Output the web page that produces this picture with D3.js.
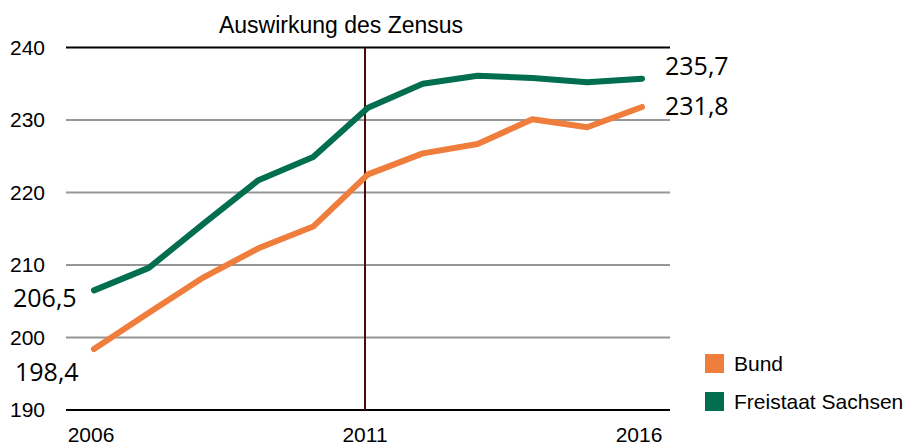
<!DOCTYPE html>
<html>
<head>
<meta charset="utf-8">
<script src="https://cdn.jsdelivr.net/npm/d3@7"></script>
<style>
  body { margin: 0; background: #fff; }
  text { font-family: "Liberation Sans", Arial, sans-serif; fill: #000; }
  .val { font-family: "Open Sans", sans-serif; }
</style>
</head>
<body>
<svg id="chart" width="907" height="446"></svg>
<script>
var years = [2006, 2007, 2008, 2009, 2010, 2011, 2012, 2013, 2014, 2015, 2016];
var bund = [198.4, 203.4, 208.3, 212.3, 215.3, 222.5, 225.4, 226.7, 230.1, 229.0, 231.8];
var sachsen = [206.5, 209.6, 215.7, 221.7, 224.9, 231.7, 235.0, 236.1, 235.8, 235.2, 235.7];
var yTicks = [190, 200, 210, 220, 230, 240];
var xTicks = [2006, 2011, 2016];
var censusYear = 2011;

var series = [
  {name: "Bund", values: bund, color: "#ef7d3c"},
  {name: "Freistaat Sachsen", values: sachsen, color: "#006e4f"}
];

var svg = d3.select("#chart"),
    margin = {top: 47.5, right: 237, bottom: 36, left: 66},
    width = +svg.attr("width") - margin.left - margin.right,
    height = +svg.attr("height") - margin.top - margin.bottom,
    g = svg.append("g").attr("transform", "translate(" + margin.left + "," + margin.top + ")");

var x = d3.scaleLinear().domain([2006, 2016]).range([28, 576]);
var y = d3.scaleLinear().domain([190, 240]).range([height, 0]);

// gridlines
g.append("g")
    .selectAll("line")
    .data(yTicks)
    .enter().append("line")
    .attr("x1", 0)
    .attr("x2", width)
    .attr("y1", function(d) { return y(d); })
    .attr("y2", function(d) { return y(d); })
    .attr("stroke", function(d) { return (d == 190 || d == 240) ? "#000" : "#969696"; })
    .attr("stroke-width", 2);

// y labels
g.append("g")
    .selectAll("text")
    .data(yTicks)
    .enter().append("text")
    .attr("x", -21)
    .attr("y", function(d) { return y(d); })
    .attr("dy", "0.35em")
    .attr("text-anchor", "end")
    .style("font-size", "21px")
    .text(function(d) { return d; });

// x labels
g.append("g")
    .selectAll("text")
    .data(xTicks)
    .enter().append("text")
    .attr("x", function(d) { return x(d) - 3; })
    .attr("y", height + 32)
    .attr("text-anchor", "middle")
    .style("font-size", "21px")
    .text(function(d) { return d; });

// census marker
g.append("line")
    .attr("x1", x(censusYear) - 3)
    .attr("x2", x(censusYear) - 3)
    .attr("y1", 0)
    .attr("y2", height)
    .attr("stroke", "#4a0a0a")
    .attr("stroke-width", 2);

var line = d3.line()
    .x(function(d, i) { return x(years[i]); })
    .y(function(d) { return y(d); });

g.selectAll(".series")
    .data(series)
    .enter().append("path")
    .attr("class", "series")
    .attr("d", function(s) { return line(s.values); })
    .attr("fill", "none")
    .attr("stroke", function(s) { return s.color; })
    .attr("stroke-width", 6)
    .attr("stroke-linecap", "round")
    .attr("stroke-linejoin", "round");

// end value labels
var last = years.length - 1;
g.append("text").attr("class", "val")
    .attr("x", x(2016) + 23).attr("y", y(sachsen[last]) - 4)
    .style("font-size", "25px")
    .text(d3.format(".1f")(sachsen[last]).replace(".", ","));
g.append("text").attr("class", "val")
    .attr("x", x(2016) + 23).attr("y", y(bund[last]) + 8)
    .style("font-size", "25px")
    .text(d3.format(".1f")(bund[last]).replace(".", ","));
// start value labels
g.append("text").attr("class", "val")
    .attr("x", x(2006) - 81).attr("y", y(sachsen[0]) + 17)
    .style("font-size", "25px")
    .text(d3.format(".1f")(sachsen[0]).replace(".", ","));
g.append("text").attr("class", "val")
    .attr("x", x(2006) - 79).attr("y", y(bund[0]) + 32)
    .style("font-size", "25px")
    .text(d3.format(".1f")(bund[0]).replace(".", ","));

// title
svg.append("text")
    .attr("x", 341)
    .attr("y", 33)
    .attr("text-anchor", "middle")
    .style("font-size", "23px")
    .text("Auswirkung des Zensus");

// legend
var legend = svg.append("g").attr("transform", "translate(705,354)");
var item = legend.selectAll("g")
    .data(series)
    .enter().append("g")
    .attr("transform", function(d, i) { return "translate(0," + (i * 38) + ")"; });
item.append("rect")
    .attr("width", 19).attr("height", 19)
    .attr("fill", function(d) { return d.color; });
item.append("text")
    .attr("x", 29).attr("y", 17)
    .style("font-size", "21px")
    .text(function(d) { return d.name; });
</script>
</body>
</html>
